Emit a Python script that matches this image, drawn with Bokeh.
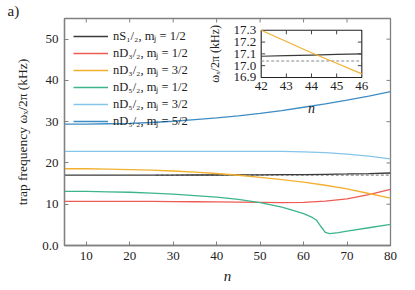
import math
from bokeh.plotting import figure
from bokeh.models import Range1d, Legend, LegendItem, Title, FixedTicker
from bokeh.core.properties import value
from bokeh.embed import file_html
from bokeh.resources import INLINE

# ---------------- data ----------------
n = [5, 10, 15, 20, 25, 30, 35, 40, 45, 50, 55, 60, 65, 70, 75, 80]
s12_mj12 = [17.07, 17.07, 17.07, 17.07, 17.07, 17.07, 17.08, 17.08, 17.10,
            17.12, 17.15, 17.19, 17.25, 17.33, 17.43, 17.57]
d32_mj12 = [10.7, 10.7, 10.7, 10.7, 10.7, 10.65, 10.6, 10.55, 10.5, 10.45,
            10.4, 10.45, 10.75, 11.3, 12.3, 13.6]
d32_mj32 = [18.6, 18.6, 18.5, 18.4, 18.25, 18.05, 17.8, 17.45, 17.02, 16.5,
            15.95, 15.35, 14.6, 13.7, 12.6, 11.5]
n_green = [5, 10, 15, 20, 25, 30, 35, 40, 45, 50, 55, 57, 60, 62, 63, 64,
           65, 66, 68, 70, 75, 80]
d52_mj12 = [13.1, 13.1, 13.0, 12.9, 12.7, 12.45, 12.1, 11.7, 11.2, 10.4,
            9.3, 8.7, 7.7, 6.8, 6.1, 4.6, 3.2, 2.9, 3.1, 3.5, 4.3, 5.1]
d52_mj32 = [22.8, 22.8, 22.8, 22.8, 22.8, 22.8, 22.8, 22.8, 22.8, 22.8,
            22.8, 22.7, 22.5, 22.15, 21.65, 21.0]
d52_mj52 = [29.4, 29.4, 29.5, 29.6, 29.8, 30.1, 30.5, 30.9, 31.4, 32.0,
            32.7, 33.5, 34.3, 35.2, 36.2, 37.3]
ref_n = [26, 80]
ref_freq = [17.04, 17.04]

labels = ["nS₁/₂, mⱼ = 1/2", "nD₃/₂, mⱼ = 1/2", "nD₃/₂, mⱼ = 3/2",
          "nD₅/₂, mⱼ = 1/2", "nD₅/₂, mⱼ = 3/2", "nD₅/₂, mⱼ = 5/2"]

x_lim = (5, 80)
y_lim = (0, 55)
x_ticks = [10, 20, 30, 40, 50, 60, 70, 80]
y_ticks = [0, 10, 20, 30, 40, 50]
y_tick_labels = ["0.0", "10", "20", "30", "40", "50"]

# inset data
inset_n = [42, 43, 44, 45, 46]
inset_s12 = [17.08, 17.085, 17.09, 17.095, 17.10]
inset_d32 = [17.30, 17.205, 17.11, 17.02, 16.93]
inset_ref_n = [42, 46]
inset_ref = [17.04, 17.04]
inset_xticks = [42, 43, 44, 45, 46]
inset_yticks = [16.9, 17.0, 17.1, 17.2, 17.3]
inset_ytick_labels = ["16.9", "17.0", "17.1", "17.2", "17.3"]
inset_xlim = (42, 46)
inset_ylim = (16.9, 17.3)

colors = ["#3a3a3a", "#ee5b55", "#f3b030", "#3db58c", "#85c5ea", "#3e8cc4"]
FONT = "Liberation Serif"
AX = "#808080"
TXT = "#222222"

# ---------------- figure ----------------
W, H = 413, 288
BL, BT = 64, 14
BR, BB = W - 390, H - 245
p = figure(width=W, height=H, x_range=Range1d(*x_lim), y_range=Range1d(*y_lim),
           output_backend="svg", toolbar_location=None,
           min_border_left=BL, min_border_right=BR, min_border_top=BT,
           min_border_bottom=BB)
p.grid.visible = False
p.outline_line_color = AX
p.outline_line_width = 1.3

# panel label "a)" placed as a title in the top border, shifted to the left
p.title = Title(text="a)", align="left", offset=-57, standoff=0,
                text_font=FONT, text_font_size="15px", text_font_style="normal",
                text_color=TXT, text_line_height=0.9)

for ax in (p.xaxis[0], p.yaxis[0]):
    ax.axis_line_color = AX
    ax.axis_line_width = 1.3
    ax.major_tick_line_color = AX
    ax.minor_tick_line_color = None
    ax.major_tick_in = 4
    ax.major_tick_out = 0
    ax.major_label_text_font = FONT
    ax.major_label_text_font_size = "13px"
    ax.major_label_text_color = TXT
    ax.axis_label_text_font = FONT
    ax.axis_label_text_color = TXT
    ax.major_label_standoff = 6

p.xaxis[0].ticker = FixedTicker(ticks=x_ticks)
p.yaxis[0].ticker = FixedTicker(ticks=y_ticks)
p.yaxis[0].major_label_overrides = {t: l for t, l in zip(y_ticks, y_tick_labels)}
p.xaxis[0].axis_label = "n"
p.xaxis[0].axis_label_text_font_style = "italic"
p.xaxis[0].axis_label_text_font_size = "15px"
p.xaxis[0].axis_label_standoff = 5
p.yaxis[0].axis_label = "trap frequency ωₓ/2π (kHz)"
p.yaxis[0].axis_label_text_font_style = "normal"
p.yaxis[0].axis_label_text_font_size = "13.5px"
p.yaxis[0].axis_label_standoff = 9

# inward ticks on the right and top edges of the frame
p.ray(x=[x_lim[1]] * (len(y_ticks) - 1), y=y_ticks[1:], length=4,
      length_units="screen", angle=math.pi, line_color=AX)
p.ray(x=x_ticks[:-1], y=[y_lim[1]] * (len(x_ticks) - 1), length=4,
      length_units="screen", angle=-math.pi / 2, line_color=AX)

# main curves
p.line(ref_n, ref_freq, line_color="#8a8a8a", line_width=1.2, line_dash="3 2")
series = [(n, s12_mj12), (n, d32_mj12), (n, d32_mj32), (n_green, d52_mj12),
          (n, d52_mj32), (n, d52_mj52)]
renderers = []
for (xs, ys), c in zip(series, colors):
    renderers.append(p.line(xs, ys, line_color=c, line_width=1.3))

legend = Legend(items=[LegendItem(label=l, renderers=[r])
                       for l, r in zip(labels, renderers)],
                location="top_left", margin=9, padding=0, spacing=0,
                label_height=12, glyph_height=12, glyph_width=35,
                label_standoff=5, background_fill_alpha=0,
                border_line_alpha=0, label_text_font=FONT,
                label_text_font_size="12.5px", label_text_color=TXT)
p.add_layout(legend)

# ---------------- inset (extra ranges) ----------------
frame_w = W - BL - BR
frame_h = H - BT - BB
frame_bottom = H - BB
fx0, fx1 = (260.7 - BL) / frame_w, (361.3 - BL) / frame_w
fy0, fy1 = (frame_bottom - 74) / frame_h, (frame_bottom - 26) / frame_h
sx = (inset_xlim[1] - inset_xlim[0]) / (fx1 - fx0)
sy = (inset_ylim[1] - inset_ylim[0]) / (fy1 - fy0)
p.extra_x_ranges = {"ix": Range1d(inset_xlim[0] - fx0 * sx,
                                  inset_xlim[0] + (1 - fx0) * sx)}
p.extra_y_ranges = {"iy": Range1d(inset_ylim[0] - fy0 * sy,
                                  inset_ylim[0] + (1 - fy0) * sy)}
kw = dict(x_range_name="ix", y_range_name="iy")

p.quad(left=[inset_xlim[0]], right=[inset_xlim[1]], bottom=[inset_ylim[0]],
       top=[inset_ylim[1]], fill_color="white", line_color=TXT,
       line_width=1.1, **kw)
p.line(inset_ref_n, inset_ref, line_color="#8a8a8a", line_width=1.1,
       line_dash="3 2", **kw)
p.line(inset_n, inset_s12, line_color=colors[0], line_width=1.2, **kw)
p.line(inset_n, inset_d32, line_color=colors[2], line_width=1.2, **kw)

# inset ticks
mid_x = inset_xticks[1:-1]
mid_y = inset_yticks[1:-1]
p.ray(x=mid_x, y=[inset_ylim[0]] * len(mid_x), length=4,
      length_units="screen", angle=math.pi / 2, line_color="#444444", **kw)
p.ray(x=mid_x, y=[inset_ylim[1]] * len(mid_x), length=4,
      length_units="screen", angle=-math.pi / 2, line_color="#444444", **kw)
p.ray(x=[inset_xlim[0]] * len(mid_y), y=mid_y, length=4,
      length_units="screen", angle=0, line_color="#444444", **kw)
p.ray(x=[inset_xlim[1]] * len(mid_y), y=mid_y, length=4,
      length_units="screen", angle=math.pi, line_color="#444444", **kw)

p.text(x=inset_xticks, y=[inset_ylim[0]] * len(inset_xticks),
       text=[str(t) for t in inset_xticks], y_offset=5, text_align="center",
       text_baseline="top", text_font=value(FONT), text_font_size="13px",
       text_color=TXT, **kw)
p.text(x=[inset_xlim[0]] * len(inset_yticks), y=inset_yticks,
       text=inset_ytick_labels, x_offset=-5, text_align="right",
       text_baseline="middle", text_font=value(FONT), text_font_size="13px",
       text_color=TXT, **kw)
p.text(x=[inset_xlim[0]], y=[sum(inset_ylim) / 2], text=["ωₓ/2π (kHz)"],
       x_offset=-46, angle=math.pi / 2, text_align="center",
       text_baseline="middle", text_font=value(FONT), text_font_size="12px",
       text_color=TXT, **kw)
p.text(x=[sum(inset_xlim) / 2], y=[inset_ylim[0]], text=["n"],
       y_offset=31, text_align="center", text_baseline="middle",
       text_font=value(FONT), text_font_style="italic", text_font_size="14px",
       text_color=TXT, **kw)

open("out.html", "w").write(file_html(p, INLINE))
